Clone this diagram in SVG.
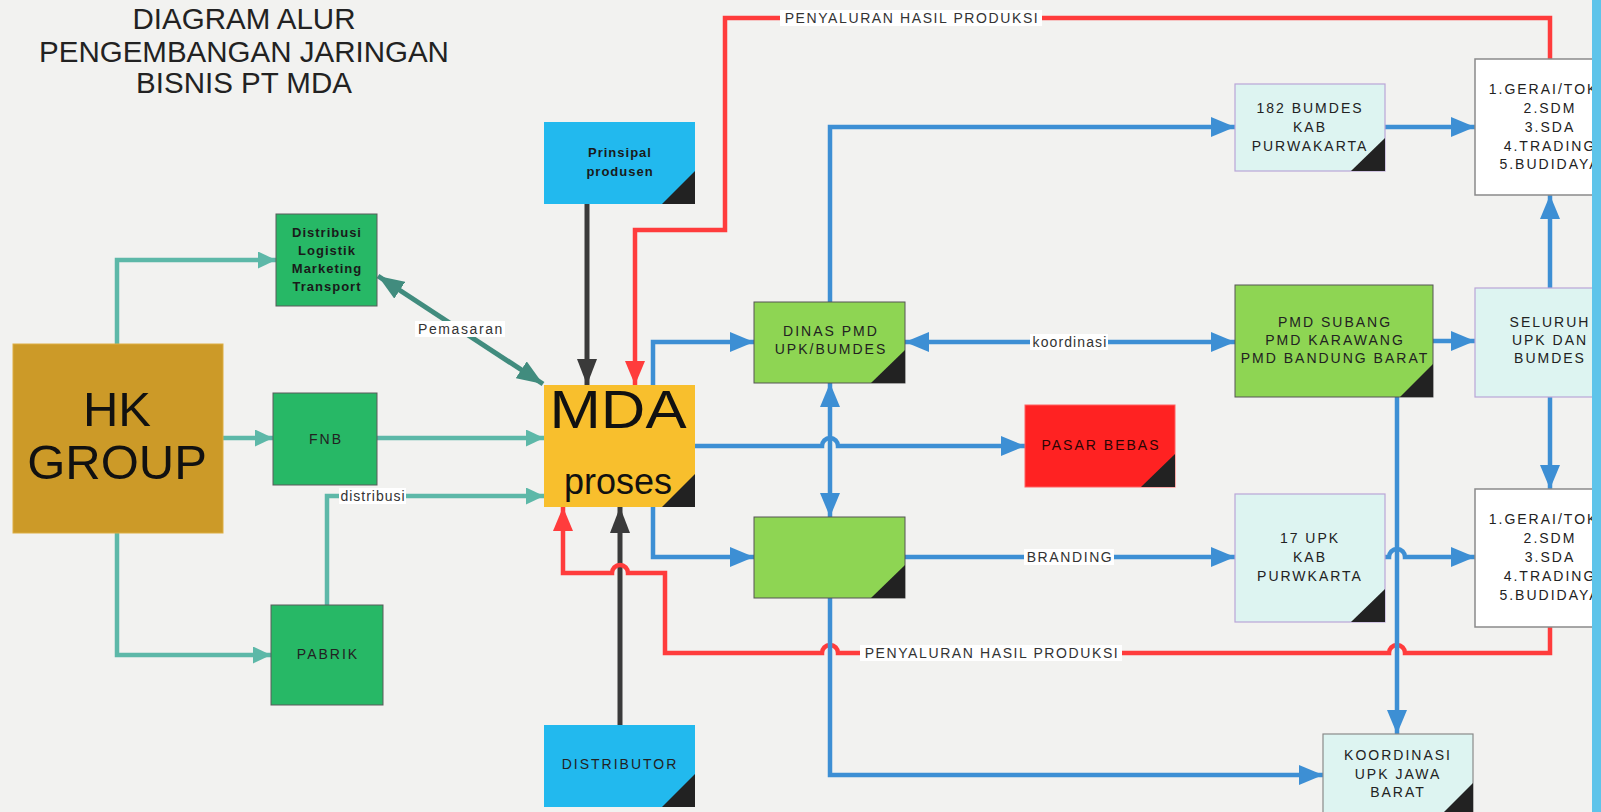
<svg xmlns="http://www.w3.org/2000/svg" width="1601" height="812" viewBox="0 0 1601 812">
<defs>
<style>
.t{font-family:"Liberation Sans",Arial,sans-serif;font-size:14px;fill:#222;letter-spacing:2px;text-anchor:middle}
.tb{font-family:"Liberation Sans",Arial,sans-serif;font-size:13px;font-weight:bold;fill:#1a1a1a;letter-spacing:1px;text-anchor:middle}
.lbl{font-family:"Liberation Sans",Arial,sans-serif;font-size:14px;fill:#333;letter-spacing:1.6px;text-anchor:middle}
.lbg{fill:#ffffff}
.title{font-family:"Liberation Sans",Arial,sans-serif;font-size:29.5px;fill:#222;text-anchor:middle}
.tri{fill:#222}
.dg{fill:#27B866;stroke:#5a5a5a;stroke-width:1}
.lg{fill:#8ED553;stroke:#555;stroke-width:1}
.cy{fill:#DDF4F1;stroke:#B9A5D8;stroke-width:1.2}
.cyg{fill:#DDF4F1;stroke:#8a8a8a;stroke-width:1.2}
.wh{fill:#FFFFFF;stroke:#8a8a8a;stroke-width:1.5}
.sky{fill:#22B9EE}
.ct{fill:none;stroke:#5DB8A8;stroke-width:4.5;marker-end:url(#aT)}
.cb{fill:none;stroke:#3D8FD4;stroke-width:4.5;marker-end:url(#aB)}
.cr{fill:none;stroke:#FF3C3C;stroke-width:4.5;marker-end:url(#aR)}
.ck{fill:none;stroke:#3A3A3A;stroke-width:5;marker-end:url(#aK)}
</style>
<marker id="aB" markerUnits="userSpaceOnUse" markerWidth="24" markerHeight="20" refX="24" refY="10" orient="auto-start-reverse" viewBox="0 0 24 20"><path d="M0,0L24,10L0,20z" fill="#3D8FD4"/></marker>
<marker id="aR" markerUnits="userSpaceOnUse" markerWidth="24" markerHeight="20" refX="24" refY="10" orient="auto-start-reverse" viewBox="0 0 24 20"><path d="M0,0L24,10L0,20z" fill="#FF3C3C"/></marker>
<marker id="aK" markerUnits="userSpaceOnUse" markerWidth="26" markerHeight="20" refX="26" refY="10" orient="auto-start-reverse" viewBox="0 0 26 20"><path d="M0,0L26,10L0,20z" fill="#3A3A3A"/></marker>
<marker id="aT" markerUnits="userSpaceOnUse" markerWidth="18" markerHeight="17" refX="18" refY="8.5" orient="auto-start-reverse" viewBox="0 0 18 17"><path d="M0,0L18,8.5L0,17z" fill="#5DB8A8"/></marker>
<marker id="aP" markerUnits="userSpaceOnUse" markerWidth="26" markerHeight="20" refX="26" refY="10" orient="auto-start-reverse" viewBox="0 0 26 20"><path d="M0,0L26,10L0,20z" fill="#418C7E"/></marker>
</defs>
<rect x="0" y="0" width="1601" height="812" fill="#F2F2F0"/>

<g id="title">
<text class="title" x="244" y="29">DIAGRAM ALUR</text>
<text class="title" x="244" y="62">PENGEMBANGAN JARINGAN</text>
<text class="title" x="244" y="93">BISNIS PT MDA</text>
</g>

<g id="connectors">
<path class="ct" d="M117,344 V260 H276"/>
<path class="ct" d="M223,438 H273"/>
<path class="ct" d="M117,533 V655 H271"/>
<path class="ct" d="M377,438 H544"/>
<path class="ct" d="M327,605 V496 H544"/>
<path d="M378,276 L543,384" fill="none" stroke="#418C7E" stroke-width="5" marker-start="url(#aP)" marker-end="url(#aP)"/>
<path class="ck" d="M587,204 V385"/>
<path class="ck" d="M620,725 V507"/>
<path class="cr" d="M1550,59 V18 H725 V230 H635 V385"/>
<path class="cr" d="M1550,627 V653 H1405 A8,8 0 0 0 1389,653 H838 A8,8 0 0 0 822,653 H665 V573 H628 A8,8 0 0 0 612,573 H563 V507"/>
<path class="cb" d="M653,385 V342 H754"/>
<path class="cb" d="M830,302 V127 H1235"/>
<path class="cb" d="M1385,127 H1475"/>
<path class="cb" d="M905,342 H1235" marker-start="url(#aB)"/>
<path class="cb" d="M1433,341 H1475"/>
<path class="cb" d="M1550,288 V195"/>
<path class="cb" d="M1550,397 V489"/>
<path class="cb" d="M695,446 H822 A8,8 0 0 1 838,446 H1025"/>
<path class="cb" d="M830,383 V517" marker-start="url(#aB)"/>
<path class="cb" d="M653,507 V557 H754"/>
<path class="cb" d="M905,557 H1235"/>
<path class="cb" d="M1385,557 H1389 A8,8 0 0 1 1405,557 H1475"/>
<path class="cb" d="M1397,397 V734"/>
<path class="cb" d="M830,598 V775 H1323"/>
<g id="labels">
<rect class="lbg" x="780" y="10" width="262" height="16"/>
<text class="lbl" x="912" y="23">PENYALURAN HASIL PRODUKSI</text>
<rect class="lbg" x="860" y="645" width="262" height="16"/>
<text class="lbl" x="992" y="658">PENYALURAN HASIL PRODUKSI</text>
<rect class="lbg" x="415" y="321" width="90" height="16"/>
<text class="lbl" x="461" y="334">Pemasaran</text>
<rect class="lbg" x="339" y="488" width="67" height="16"/>
<text class="lbl" x="373" y="501" style="letter-spacing:1px">distribusi</text>
<rect class="lbg" x="1030" y="334" width="78" height="16"/>
<text class="lbl" x="1070" y="347" style="letter-spacing:1.1px">koordinasi</text>
<rect class="lbg" x="1024" y="549" width="90" height="16"/>
<text class="lbl" x="1070" y="562">BRANDING</text>
</g>
</g>

<g id="hk-group">
<rect x="13" y="344" width="210" height="189" fill="#CC9A28" stroke="#DDAE42" stroke-width="1"/>
<text x="117" y="426" font-family="Liberation Sans, Arial, sans-serif" font-size="49" fill="#111" text-anchor="middle">HK</text>
<text x="117" y="479" font-family="Liberation Sans, Arial, sans-serif" font-size="49" fill="#111" text-anchor="middle">GROUP</text>
</g>

<g id="distribusi">
<rect class="dg" x="276" y="214" width="101" height="92"/>
<text class="tb" x="327" y="237">Distribusi</text>
<text class="tb" x="327" y="255">Logistik</text>
<text class="tb" x="327" y="273">Marketing</text>
<text class="tb" x="327" y="291">Transport</text>
</g>

<g id="fnb">
<rect class="dg" x="273" y="393" width="104" height="92"/>
<text class="t" x="326" y="444">FNB</text>
</g>

<g id="pabrik">
<rect class="dg" x="271" y="605" width="112" height="100"/>
<text class="t" x="328" y="659">PABRIK</text>
</g>

<g id="prinsipal">
<rect class="sky" x="544" y="122" width="151" height="82"/>
<polygon class="tri" points="695,171 695,204 662,204"/>
<text class="tb" x="620" y="157">Prinsipal</text>
<text class="tb" x="620" y="176">produsen</text>
</g>

<g id="mda">
<rect x="544" y="385" width="151" height="122" fill="#F8BF2D"/>
<polygon class="tri" points="695,474 695,507 662,507"/>
<text x="618" y="428" font-family="Liberation Sans, Arial, sans-serif" font-size="54" fill="#111" text-anchor="middle" textLength="137" lengthAdjust="spacingAndGlyphs">MDA</text>
<text x="618" y="494" font-family="Liberation Sans, Arial, sans-serif" font-size="36" fill="#111" text-anchor="middle">proses</text>
</g>

<g id="distributor">
<rect class="sky" x="544" y="725" width="151" height="82"/>
<polygon class="tri" points="695,774 695,807 662,807"/>
<text class="t" x="620" y="769">DISTRIBUTOR</text>
</g>

<g id="dinas-pmd">
<rect class="lg" x="754" y="302" width="151" height="81"/>
<polygon class="tri" points="905,350 905,383 871,383"/>
<text class="t" x="831" y="336">DINAS PMD</text>
<text class="t" x="831" y="354">UPK/BUMDES</text>
</g>

<g id="green-box">
<rect class="lg" x="754" y="517" width="151" height="81"/>
<polygon class="tri" points="905,565 905,598 871,598"/>
</g>

<g id="pasar-bebas">
<rect x="1025" y="405" width="150" height="82" fill="#FF2222" stroke="#FF6060" stroke-width="1"/>
<polygon class="tri" points="1175,454 1175,487 1141,487"/>
<text class="t" x="1101" y="450" style="fill:#2a0505">PASAR BEBAS</text>
</g>

<g id="bumdes-182">
<rect class="cy" x="1235" y="84" width="150" height="87"/>
<polygon class="tri" points="1385,138 1385,171 1351,171"/>
<text class="t" x="1310" y="113">182 BUMDES</text>
<text class="t" x="1310" y="132">KAB</text>
<text class="t" x="1310" y="151">PURWAKARTA</text>
</g>

<g id="pmd-subang">
<rect class="lg" x="1235" y="285" width="198" height="112"/>
<polygon class="tri" points="1433,364 1433,397 1400,397"/>
<text class="t" x="1335" y="327">PMD SUBANG</text>
<text class="t" x="1335" y="345">PMD KARAWANG</text>
<text class="t" x="1335" y="363">PMD BANDUNG BARAT</text>
</g>

<g id="upk-17">
<rect class="cy" x="1235" y="494" width="150" height="128"/>
<polygon class="tri" points="1385,589 1385,622 1351,622"/>
<text class="t" x="1310" y="543">17 UPK</text>
<text class="t" x="1310" y="562">KAB</text>
<text class="t" x="1310" y="581">PURWKARTA</text>
</g>

<g id="koordinasi-jabar">
<rect class="cyg" x="1323" y="734" width="150" height="84"/>
<polygon class="tri" points="1473,783 1473,818 1438,818"/>
<text class="t" x="1398" y="760">KOORDINASI</text>
<text class="t" x="1398" y="779">UPK JAWA</text>
<text class="t" x="1398" y="797">BARAT</text>
</g>

<g id="gerai-1">
<rect class="wh" x="1475" y="59" width="150" height="136"/>
<text class="t" x="1550" y="94">1.GERAI/TOKO</text>
<text class="t" x="1550" y="113">2.SDM</text>
<text class="t" x="1550" y="132">3.SDA</text>
<text class="t" x="1550" y="151">4.TRADING</text>
<text class="t" x="1550" y="169">5.BUDIDAYA</text>
</g>

<g id="seluruh-upk">
<rect class="cy" x="1475" y="288" width="150" height="109"/>
<text class="t" x="1550" y="327">SELURUH</text>
<text class="t" x="1550" y="345">UPK DAN</text>
<text class="t" x="1550" y="363">BUMDES</text>
</g>

<g id="gerai-2">
<rect class="wh" x="1475" y="489" width="150" height="138"/>
<text class="t" x="1550" y="524">1.GERAI/TOKO</text>
<text class="t" x="1550" y="543">2.SDM</text>
<text class="t" x="1550" y="562">3.SDA</text>
<text class="t" x="1550" y="581">4.TRADING</text>
<text class="t" x="1550" y="600">5.BUDIDAYA</text>
</g>

<rect x="1592" y="0" width="9" height="812" fill="#5EC4EA"/>
</svg>
